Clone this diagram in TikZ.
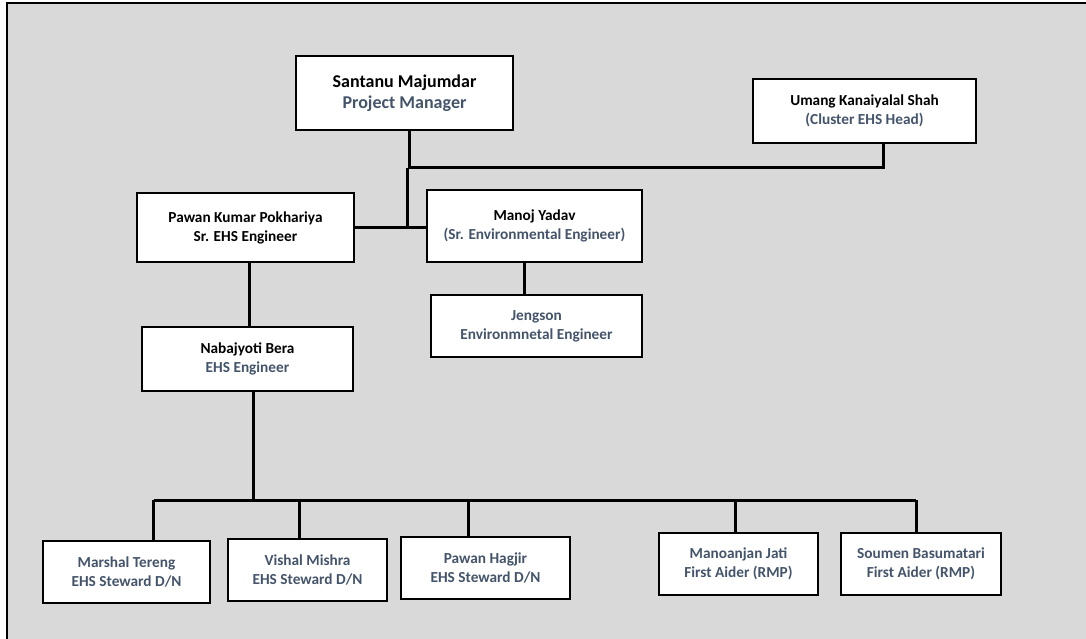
\documentclass[tikz,border=0pt]{standalone}
\usepackage{fontspec}
\setmainfont{Carlito}
\definecolor{panelgray}{HTML}{D9D9D9}
\definecolor{slate}{HTML}{44546A}
\tikzset{
  box/.style={draw=black, fill=white, line width=1.6pt, inner sep=0pt, align=center,
    font=\fontsize{15.3}{19}\selectfont\bfseries},
  bigbox/.style={box, font=\fontsize{18}{21}\selectfont\bfseries},
  conn/.style={line width=3pt, draw=black}
}

\begin{document}
\begin{tikzpicture}[x=1pt, y=-1pt]
		%%%%% PANEL %%%%%
		\useasboundingbox (0,0) rectangle (1086,639);
		\fill[panelgray] (7,3) rectangle (1086,639);
		\draw[line width=2pt] (7,639) -- (7,3) -- (1086,3);
		
		%%%%% BOXES %%%%%
		\node[bigbox, minimum width=217, minimum height=74] (pm) at (404.5,93)
			{Santanu Majumdar\\\textcolor{slate}{Project Manager}};
		\node[box, minimum width=223, minimum height=64] (ehshead) at (864.5,111)
			{Umang Kanaiyalal Shah\\\textcolor{slate}{(Cluster EHS Head)}};
		
		\node[box, minimum width=217, minimum height=69] (srehs) at (245.5,227.5)
			{Pawan Kumar Pokhariya\\Sr. EHS Engineer};
		\node[box, minimum width=215, minimum height=72] (srenv) at (534.5,226)
			{Manoj Yadav\\\textcolor{slate}{(Sr. Environmental Engineer)}};
		
		\node[box, minimum width=211, minimum height=62, text=slate] (enveng) at (536.5,326)
			{Jengson\\Environmnetal Engineer};
		\node[box, minimum width=211, minimum height=64] (ehseng) at (247.5,359)
			{Nabajyoti Bera\\\textcolor{slate}{EHS Engineer}};
		
		\node[box, minimum width=167, minimum height=62, text=slate] (st1) at (126.5,572)
			{Marshal Tereng\\EHS Steward D/N};
		\node[box, minimum width=159, minimum height=62, text=slate] (st2) at (307.5,570)
			{Vishal Mishra\\EHS Steward D/N};
		\node[box, minimum width=169, minimum height=62, text=slate] (st3) at (485.5,568)
			{Pawan Hagjir\\EHS Steward D/N};
		\node[box, minimum width=159, minimum height=62, text=slate] (fa1) at (738.5,564)
			{Manoanjan Jati\\First Aider (RMP)};
		\node[box, minimum width=160, minimum height=62, text=slate] (fa2) at (921,564)
			{Soumen Basumatari\\First Aider (RMP)};
		
		%%%%% CONNECTORS %%%%%
		\coordinate (topbus) at (0,168);
		\coordinate (bus) at (0,500);
		
		\draw[conn] ([xshift=5]pm.south) -- ([xshift=5]pm.south |- topbus) -| ([xshift=19]ehshead.south);
		\draw[conn] ([xshift=3]pm.south |- topbus) -- ([xshift=3]pm.south |- srenv.west);
		\draw[conn] (srehs.east) -- (srehs.east -| srenv.west);
		
		\draw[conn] ([xshift=-10]srenv.south) -- ([xshift=-10]srenv.south |- enveng.north);
		\draw[conn] ([xshift=4]srehs.south) -- ([xshift=4]srehs.south |- ehseng.north);
		\draw[conn] ([xshift=6]ehseng.south) -- ([xshift=6]ehseng.south |- bus);
		
		\draw[conn] ([xshift=27]st1.north |- bus) -- ([xshift=-5]fa2.north |- bus);
		\foreach \n/\dx in {st1/27, st2/-8, st3/-17, fa1/-3, fa2/-5}
			\draw[conn] ([xshift=\dx]\n.north) -- ([xshift=\dx]\n.north |- bus);
		
		%%%%% END %%%%%
\end{tikzpicture}
\end{document}
